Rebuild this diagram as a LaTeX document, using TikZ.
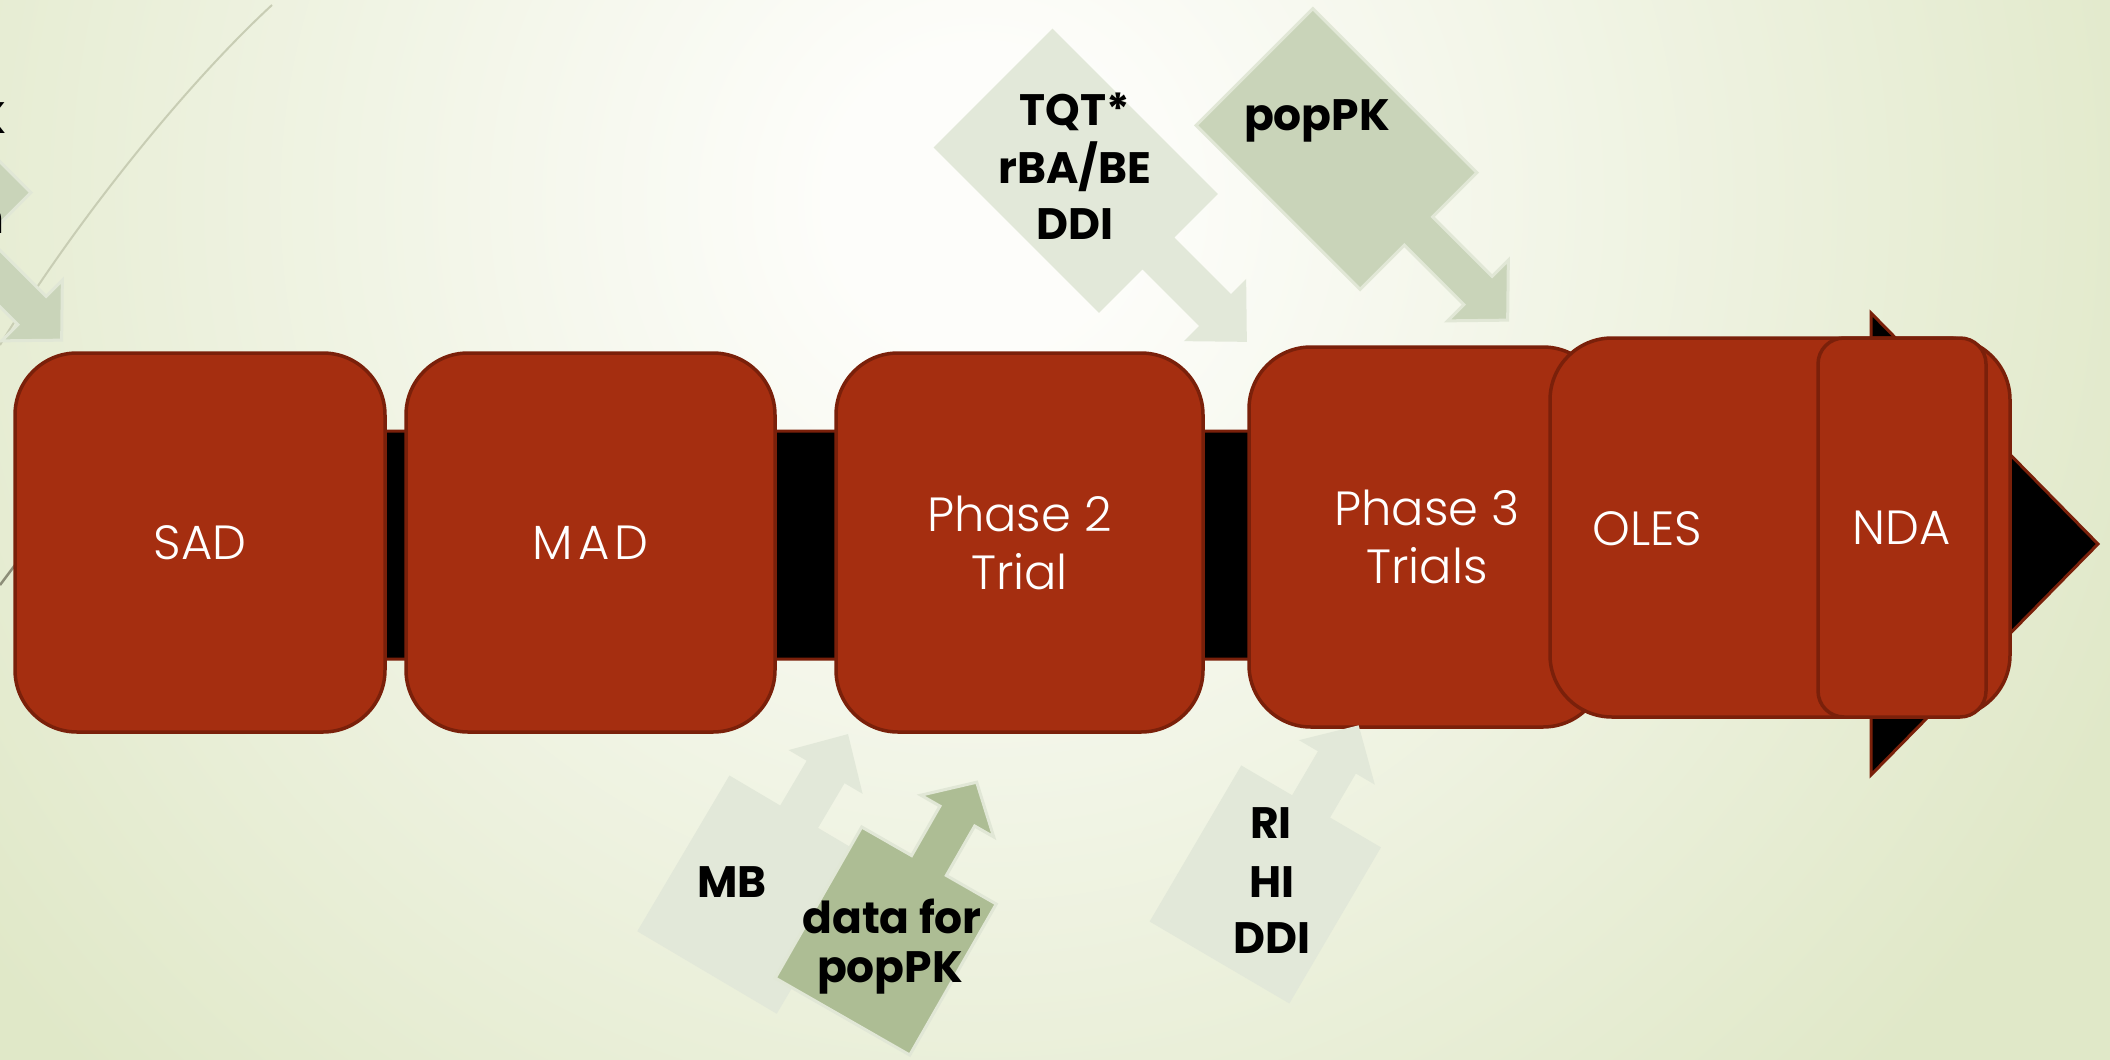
\documentclass[tikz,border=0pt]{standalone}
\usepackage{fontspec}
\setmainfont{Poppins}
\newfontfamily\boxfont{Poppins Light}
\definecolor{bginner}{RGB}{253,253,250}
\definecolor{bgouter}{RGB}{224,232,200}
\definecolor{boxfill}{RGB}{165,46,16}
\definecolor{boxline}{RGB}{122,32,10}
\definecolor{lightcallc}{RGB}{226,232,217}
\definecolor{midcallc}{RGB}{201,212,185}
\definecolor{darkcallc}{RGB}{173,189,148}
\definecolor{calledge}{RGB}{225,231,214}
\definecolor{decoline}{RGB}{200,205,180}
\definecolor{decodark}{RGB}{140,142,120}
\pgfdeclareradialshading{bgshade}{\pgfpoint{0bp}{0bp}}{color(0bp)=(bginner); color(3bp)=(bginner); color(25bp)=(bgouter); color(50bp)=(bgouter)}
\newcommand\callout[9][]{%
  \begin{scope}[shift={(#2)},rotate=#3]
    \pgfmathsetmacro\cta{#4}%
    \pgfmathsetmacro\ctb{#4+#7}%
    \pgfmathsetmacro\ctc{#4+#7+#9}%
    \path[#1] (0,-#5) -- (\cta,-#5) -- (\cta,-#6) -- (\ctb,-#6) -- (\ctb,-#8) -- (\ctc,0) -- (\ctb,#8) -- (\ctb,#6) -- (\cta,#6) -- (\cta,#5) -- (0,#5) -- cycle;
  \end{scope}}
\tikzset{
  phasebox/.style={draw=boxline, line width=3.5pt, fill=boxfill, rounded corners=62pt,
    text=white, font=\boxfont\fontsize{48}{58}\selectfont, align=center, inner sep=0pt},
  boxtext/.style={text=white, font=\boxfont\fontsize{48}{58}\selectfont, inner sep=0pt},
  calltext/.style={text=black, font=\bfseries\fontsize{44}{56}\selectfont, inner sep=0pt, anchor=base},
  lightcall/.style={fill=lightcallc},
  midcall/.style={fill=midcallc, draw=calledge, line width=3pt, line join=miter},
  darkcall/.style={fill=darkcallc, draw=calledge, line width=3pt, line join=miter},
}
\begin{document}
\begin{tikzpicture}[x=1pt,y=-1pt]
\useasboundingbox (0,0) rectangle (2110,1060);
\clip (0,0) rectangle (2110,1060);
% background
\fill[bgouter] (0,0) rectangle (2110,1060);
\shade[shading=bgshade] (980,200) circle (1250pt);
% decorative theme lines
\draw[decoline, line width=2pt] (272,5) .. controls (180,90) and (70,230) .. (0,345);
\draw[decodark, line width=2.5pt] (60,505) -- (0,585);
% left partial callout and text fragments
\callout[midcall]{-191.5,87}{-45}{232}{82.5}{20}{84}{43}{42}
\node[calltext, anchor=base east] (fragk) at (6,133) {K};
\node[calltext, anchor=base east] (fragn) at (4,233) {n};
% main timeline arrow
\path[fill=black, draw=boxline, line width=3pt, line join=miter]
  (370,431) -- (1871,431) -- (1871,313) -- (2098,544) -- (1871,775) -- (1871,659) -- (370,659) -- cycle;
% phase boxes
\node[phasebox, minimum width=370pt, minimum height=379pt] (sad) at (200,542.5) {SAD};
\node[phasebox, minimum width=369pt, minimum height=379pt] (mad) at (590.5,542.5) {\addfontfeature{LetterSpace=10}MAD};
\node[phasebox, minimum width=367pt, minimum height=379pt] (ph2) at (1019.5,542.5) {Phase 2\\Trial};
\node[phasebox, minimum width=356pt, minimum height=380pt] (ph3) at (1427,537) {Phase 3\\Trials};
\node[phasebox, minimum width=460pt, minimum height=379pt] (oles) at (1780,527.5) {};
\node[boxtext] (olestext) at (1647,529) {OLES};
\node[phasebox, rounded corners=26pt, minimum width=168pt, minimum height=379pt] (nda) at (1902,527.5) {NDA};
% top callouts
\callout[lightcall]{993,88}{-45}{234}{84}{22.5}{80}{44}{45}
\callout[midcall]{1254.5,67}{-45}{232}{82.5}{20}{84}{43}{42}
\node[calltext] (tqt1) at (1075,125) {TQT*};
\node[calltext] (tqt2) at (1075,183) {rBA/BE};
\node[calltext] (tqt3) at (1075,239) {DDI};
\node[calltext] (poppk1) at (1317,130) {popPK};
% bottom callouts
\callout[lightcall]{707,972.5}{59.4}{181}{81}{22}{52}{43}{44}
\callout[darkcall]{842.5,1016.5}{60.2}{174}{77.5}{20}{57}{42}{39}
\callout[lightcall]{1219.5,962.5}{59.6}{181}{81}{22}{51}{44}{43}
\node[calltext] (mb) at (732,897) {MB};
\node[calltext] (data1) at (892,933) {data for};
\node[calltext] (data2) at (890,982) {popPK};
\node[calltext] (ri) at (1271,838) {RI};
\node[calltext] (hi) at (1272,897) {HI};
\node[calltext] (ddi) at (1272,953) {DDI};
\end{tikzpicture}
\end{document}
